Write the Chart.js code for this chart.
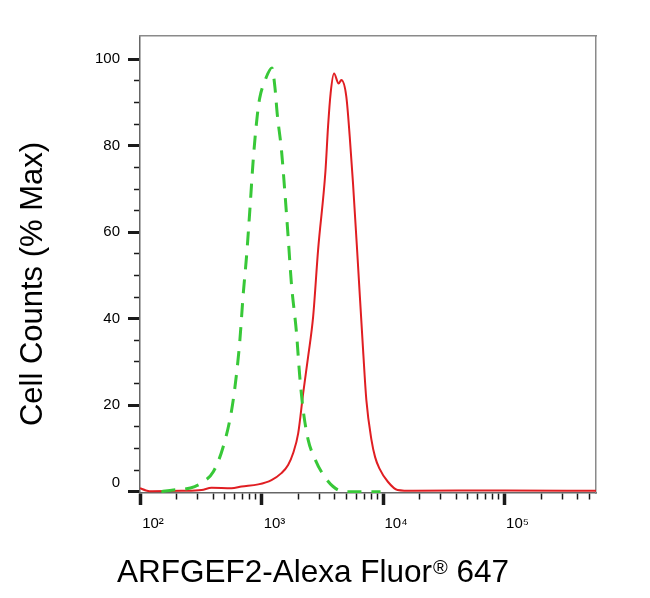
<!DOCTYPE html>
<html>
<head>
<meta charset="utf-8">
<title>ARFGEF2 flow histogram</title>
<script src="https://cdn.jsdelivr.net/npm/chart.js@4"></script>
<style>
  html, body { margin: 0; padding: 0; background: #fff; }
  #wrap { width: 650px; height: 598px; position: relative; }
</style>
</head>
<body>
<div id="wrap"><canvas id="grafico" width="650" height="598"></canvas></div>
<script>
// Intensidad (eje log) y % Max
const redX = [100, 112, 126, 220, 321, 388, 566, 686, 940, 1208, 1459, 1656, 1820, 2004, 2203, 2421, 2661, 2924, 3357,
  3532, 3707, 3954, 4315, 4539, 4989, 5321, 5662, 6237, 6855, 7295, 8035, 8610, 9333, 10965, 13183, 17783, 100000, 566000];
const redY = [0.8, 0.3, 0.1, 0.2, 0.4, 0.9, 0.8, 1.2, 1.7, 2.7, 4.3, 6.2, 8.9, 13.5, 22.8, 31.3, 40.5, 56, 74,
  84.6, 92.2, 96.7, 94.4, 95.2, 91.4, 82.2, 71.4, 52.1, 32.8, 21.2, 12, 8, 5.4, 2.3, 0.4, 0.2, 0.3, 0.2];

const greenX = [150, 188, 234, 282, 332, 401, 484, 568, 624, 664, 708, 753, 802, 855, 923, 966, 1059, 1219, 1288, 1349,
  1459, 1552, 1656, 1762, 1941, 2065, 2203, 2421, 2742, 3112, 3882, 4831, 9550];
const greenY = [0, 0.4, 0.6, 1.2, 2.3, 4.6, 10.4, 18.9, 27.4, 35.1, 45.9, 54.4, 65.2, 76.8, 87, 91, 94.8, 98, 93.7, 87.2,
  79.1, 69.8, 59, 48.2, 36.7, 26.6, 18.9, 12, 7.7, 4.6, 1.2, 0, 0];

const yTicks = [0, 5, 10, 15, 20, 25, 30, 35, 40, 45, 50, 55, 60, 65, 70, 75, 80, 85, 90, 95, 100];
const yLabels = [0, 20, 40, 60, 80, 100];
const xDecades = [2, 3, 4, 5];
const xLabels = ['10\u00b2', '10\u00b3', '10\u2074', '10\u2075'];

const yTitle = 'Cell Counts (% Max)';
const xTitleParts = ['ARFGEF2-Alexa Fluor', '\u00ae', ' 647'];

const fuente = '"Liberation Sans", Arial, Helvetica, sans-serif';
Chart.defaults.font.family = fuente;

// ticks del eje x: 1..9 x 10^n dentro del rango
const xMax = Math.pow(10, 5.753);
const xTicks = [];
xDecades.forEach(function (d) {
  for (let k = 1; k <= 9; k++) {
    const v = k * Math.pow(10, d);
    if (v <= xMax) xTicks.push(v);
  }
});

function esDecada(v) {
  const l = Math.log10(v);
  return Math.abs(l - Math.round(l)) < 1e-9;
}

// Titulos de los ejes
const titulos = {
  id: 'titulos',
  afterDraw(chart) {
    const ctx = chart.ctx;
    ctx.save();
    ctx.fillStyle = '#000';
    ctx.font = '31px ' + fuente;
    ctx.textAlign = 'center';
    ctx.textBaseline = 'alphabetic';
    ctx.translate(42, 284);
    ctx.rotate(-Math.PI / 2);
    ctx.fillText(yTitle, 0, 0);
    ctx.restore();

    ctx.save();
    ctx.fillStyle = '#000';
    ctx.textAlign = 'left';
    ctx.textBaseline = 'alphabetic';
    let x = 117;
    ctx.font = '31.5px ' + fuente;
    ctx.fillText(xTitleParts[0], x, 582);
    x += ctx.measureText(xTitleParts[0]).width + 1;
    ctx.font = '20px ' + fuente;
    ctx.fillText(xTitleParts[1], x, 574);
    x += ctx.measureText(xTitleParts[1]).width;
    ctx.font = '31.5px ' + fuente;
    ctx.fillText(xTitleParts[2], x, 582);
    ctx.restore();
  }
};

new Chart(document.getElementById('grafico'), {
  type: 'line',
  data: {
    datasets: [
      {
        label: 'Control',
        data: greenX.map((v, i) => ({ x: v, y: greenY[i] })),
        borderColor: '#38c838',
        borderWidth: 3,
        borderDash: [14, 10],
        pointRadius: 0,
        fill: false,
        cubicInterpolationMode: 'monotone'
      },
      {
        label: 'ARFGEF2',
        data: redX.map((v, i) => ({ x: v, y: redY[i] })),
        borderColor: '#e01e22',
        borderWidth: 2,
        pointRadius: 0,
        fill: false,
        cubicInterpolationMode: 'monotone'
      }
    ]
  },
  options: {
    responsive: false,
    animation: false,
    devicePixelRatio: 1,
    layout: { padding: 0 },
    plugins: { legend: { display: false }, tooltip: { enabled: false } },
    scales: {
      x: {
        type: 'logarithmic',
        position: 'bottom',
        min: 100,
        max: xMax,
        afterFit: function (s) { s.height = 105; },
        afterBuildTicks: function (s) { s.ticks = xTicks.map(v => ({ value: v })); },
        grid: {
          drawOnChartArea: false,
          tickLength: 12,
          tickColor: '#1a1a1a',
          tickWidth: ctx => (ctx.tick && esDecada(ctx.tick.value) ? 3.5 : 1.5),
          tickBorderDash: ctx => (ctx.tick && esDecada(ctx.tick.value) ? [] : [6, 20])
        },
        border: { color: '#666', width: 1.5 },
        ticks: {
          autoSkip: false,
          maxRotation: 0,
          padding: 10,
          labelOffset: 13,
          color: '#000',
          font: { size: 15 },
          callback: function (v) {
            const i = xDecades.indexOf(Math.round(Math.log10(v)));
            return esDecada(v) && i >= 0 ? xLabels[i] : '';
          }
        }
      },
      y: {
        position: 'left',
        min: -0.3,
        max: 105.4,
        afterFit: function (s) { s.width = 140; },
        afterBuildTicks: function (s) { s.ticks = yTicks.map(v => ({ value: v })); },
        grid: {
          drawOnChartArea: false,
          tickLength: 12,
          tickColor: '#1a1a1a',
          tickWidth: ctx => (ctx.tick && yLabels.includes(ctx.tick.value) ? 3 : 1.5),
          tickBorderDash: ctx => (ctx.tick && yLabels.includes(ctx.tick.value) ? [] : [6, 6]),
          tickBorderDashOffset: ctx => (ctx.tick && yLabels.includes(ctx.tick.value) ? 0 : 6)
        },
        border: { color: '#666', width: 1.5 },
        ticks: {
          autoSkip: false,
          padding: 8,
          color: '#000',
          font: { size: 15 },
          // el 0 va un poco por encima de su marca, como en la figura
          callback: v => (v === 0 ? ['0', ''] : (yLabels.includes(v) ? String(v) : ''))
        }
      },
      x2: {
        type: 'linear',
        position: 'top',
        afterFit: function (s) { s.height = 36; },
        grid: { display: false, drawTicks: false },
        ticks: { display: false },
        border: { color: '#8a8a8a', width: 1.5 }
      },
      y2: {
        type: 'linear',
        position: 'right',
        afterFit: function (s) { s.width = 54; },
        grid: { display: false, drawTicks: false },
        ticks: { display: false },
        border: { color: '#8a8a8a', width: 1.5 }
      }
    }
  },
  plugins: [titulos]
});
</script>
</body>
</html>
